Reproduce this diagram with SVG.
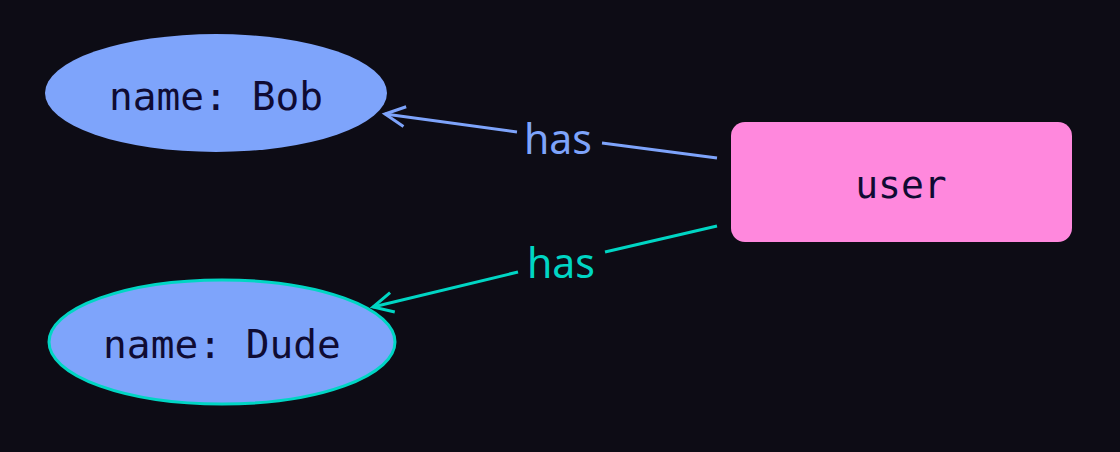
<svg xmlns="http://www.w3.org/2000/svg" width="1120" height="452" viewBox="0 0 1120 452">
<style>
.lbl{font-family:"DejaVu Sans Mono","Liberation Mono",monospace;font-size:39.5px;fill:#0f0b33;text-anchor:middle}
.usr{font-size:38px}
.elbl{font-family:"Noto Sans","Open Sans",sans-serif;font-size:41px;text-anchor:middle}
.edge{fill:none;stroke-width:3}
</style>
<defs>
<marker id="arrB" markerUnits="userSpaceOnUse" markerWidth="30" markerHeight="30" refX="22" refY="12" orient="auto" viewBox="0 0 30 24">
<path d="M2,2 L22,12 L2,22" fill="none" stroke="#7ea4fb" stroke-width="3"/>
</marker>
<marker id="arrT" markerUnits="userSpaceOnUse" markerWidth="30" markerHeight="30" refX="22" refY="12" orient="auto" viewBox="0 0 30 24">
<path d="M2,2 L22,12 L2,22" fill="none" stroke="#00d6c4" stroke-width="3"/>
</marker>
</defs>
<rect width="1120" height="452" fill="#0d0c15"/>
<g id="connectors">
<path class="edge" stroke="#7ea4fb" d="M717,158 L602,143"/>
<path class="edge" stroke="#7ea4fb" d="M517,132 L385,114" marker-end="url(#arrB)"/>
<text class="elbl" x="558" y="154" fill="#7ea4fb">has</text>
<path class="edge" stroke="#00d6c4" d="M717,226 L605,252"/>
<path class="edge" stroke="#00d6c4" d="M518,272 L373,307" marker-end="url(#arrT)"/>
<text class="elbl" x="561" y="278" fill="#00d6c4">has</text>
</g>
<g id="bob">
<ellipse cx="216" cy="93" rx="171" ry="59" fill="#7ea4fb"/>
<text class="lbl" x="216" y="110">name: Bob</text>
</g>
<g id="dude">
<ellipse cx="222" cy="342" rx="173" ry="62" fill="#7ea4fb" stroke="#00d6c4" stroke-width="3"/>
<text class="lbl" x="222" y="358">name: Dude</text>
</g>
<g id="user">
<rect x="731" y="122" width="341" height="120" rx="14" fill="#ff88dd"/>
<text class="lbl usr" x="901" y="198">user</text>
</g>
</svg>
